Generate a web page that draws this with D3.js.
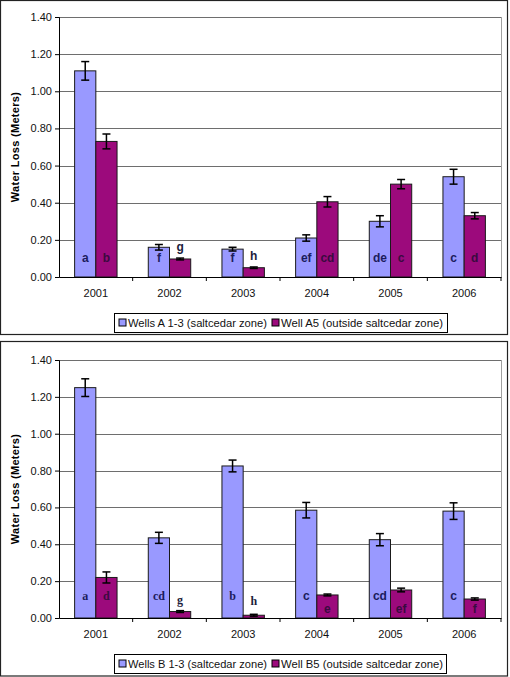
<!DOCTYPE html>
<html><head><meta charset="utf-8">
<script src="https://cdn.jsdelivr.net/npm/d3@7/dist/d3.min.js"></script>
<style>body{margin:0;background:#fff}svg{display:block}</style>
</head><body>
<svg id="c" width="510" height="677"></svg>
<script>
const years = ["2001","2002","2003","2004","2005","2006"];
const yTicks = [0,0.2,0.4,0.6,0.8,1.0,1.2,1.4];

// Chart A
const aInside = [1.11,0.16,0.15,0.21,0.30,0.54];
const aInsideErr = [0.05,0.015,0.01,0.017,0.03,0.04];
const aOutside = [0.73,0.097,0.05,0.405,0.50,0.33];
const aOutsideErr = [0.04,0.005,0.004,0.028,0.025,0.017];
const aInsideLetters = ["a","f","f","ef","de","c"];
const aOutsideLetters = ["b","g","h","cd","c","d"];
const aLegend = ["Wells A 1-3 (saltcedar zone)","Well A5 (outside saltcedar zone)"];

// Chart B
const bInside = [1.25,0.435,0.825,0.585,0.425,0.58];
const bInsideErr = [0.048,0.03,0.032,0.042,0.033,0.045];
const bOutside = [0.22,0.035,0.015,0.125,0.152,0.103];
const bOutsideErr = [0.03,0.005,0.005,0.005,0.01,0.006];
const bInsideLetters = ["a","cd","b","c","cd","c"];
const bOutsideLetters = ["d","g","h","e","ef","f"];
const bLegend = ["Wells B 1-3 (saltcedar zone)","Well B5 (outside saltcedar zone)"];

const colors = ["#9999ff","#9c0a7c"];
const svg = d3.select("#c");
const SANS = "'Liberation Sans', Arial, sans-serif";
const SERIF = "'Liberation Serif', 'Times New Roman', serif";

function panel(cfg){
  const g = svg.append("g");
  g.append("rect").attr("x",cfg.frame[0]).attr("y",cfg.frame[1]).attr("width",cfg.frame[2]).attr("height",cfg.frame[3])
    .attr("fill","#fff").attr("stroke","#222").attr("stroke-width",1.2);
  const x = d3.scaleBand().domain(years).range([cfg.left,cfg.right]).padding(0);
  const y = d3.scaleLinear().domain([0,1.4]).range([cfg.bottom,cfg.top]);
  const gw = x.bandwidth()*0.576;
  const sub = d3.scaleBand().domain([0,1]).range([0,gw]);
  // gridlines
  g.selectAll(".grid").data(yTicks.filter(d=>d>0)).join("line")
    .attr("x1",cfg.left).attr("x2",cfg.right).attr("y1",d=>Math.round(y(d))+0.5).attr("y2",d=>Math.round(y(d))+0.5)
    .attr("stroke","#6e6e6e").attr("stroke-width",1);
  g.append("line").attr("x1",cfg.right+0.5).attr("x2",cfg.right+0.5).attr("y1",cfg.top).attr("y2",cfg.bottom)
    .attr("stroke","#a0a0a0");
  const series = [
    {vals:cfg.inside, err:cfg.insideErr, letters:cfg.insideLetters, i:0},
    {vals:cfg.outside, err:cfg.outsideErr, letters:cfg.outsideLetters, i:1}
  ];
  series.forEach(s=>{
    const bx = (j)=> x(years[j]) + (x.bandwidth()-gw)/2 + sub(s.i);
    g.selectAll(null).data(s.vals).join("rect")
      .attr("x",(d,j)=>bx(j)).attr("width",sub.bandwidth())
      .attr("y",d=>y(d)).attr("height",d=>cfg.bottom-y(d))
      .attr("fill",colors[s.i]).attr("stroke","#1a1a1a").attr("stroke-width",1);
    s.vals.forEach((v,j)=>{
      const cx = bx(j)+sub.bandwidth()/2;
      const e = s.err[j];
      const y1=y(v+e), y2=y(v-e);
      g.append("line").attr("x1",cx).attr("x2",cx).attr("y1",y1).attr("y2",y2).attr("stroke","#000").attr("stroke-width",1.5);
      [y1,y2].forEach(yy=>g.append("line").attr("x1",cx-4).attr("x2",cx+4).attr("y1",yy).attr("y2",yy).attr("stroke","#000").attr("stroke-width",1.5));
      const ly = cfg.letterY(s.i, v, e, y, j);
      g.append("text").attr("x",cx).attr("y",ly).attr("dy","0.35em").attr("text-anchor","middle")
        .attr("font-family",cfg.letterFont(j)).attr("font-weight","bold").attr("font-size",12)
        .attr("fill", s.i===0 ? "#1c1c5c" : (ly < y(v) ? "#1c1c3c" : "#3a0a40"))
        .text(s.letters[j]);
    });
  });
  // y axis
  const ya = g.append("g").attr("transform",`translate(${cfg.left},0)`)
    .call(d3.axisLeft(y).tickValues(yTicks).tickFormat(d3.format(".2f")).tickSize(4).tickPadding(3));
  ya.select(".domain").attr("stroke","#000");
  ya.selectAll("text").attr("font-family",SANS).attr("font-size",11).attr("fill","#111");
  // x axis
  const xa = g.append("g").attr("transform",`translate(0,${cfg.bottom})`)
    .call(d3.axisBottom(x).tickSize(0).tickPadding(12));
  xa.select(".domain").attr("stroke","#000");
  xa.selectAll("text").attr("font-family",SANS).attr("font-size",11).attr("fill","#111");
  g.selectAll(".xt").data(years.slice(1).concat(["end"])).join("line")
    .attr("x1",(d,j)=>cfg.left + x.bandwidth()*(j+1)).attr("x2",(d,j)=>cfg.left + x.bandwidth()*(j+1))
    .attr("y1",cfg.bottom).attr("y2",cfg.bottom+4).attr("stroke","#000");
  // y title
  g.append("text").attr("transform",`translate(${cfg.titleX},${(cfg.top+cfg.bottom)/2}) rotate(-90)`)
    .attr("text-anchor","middle").attr("font-family",SANS).attr("font-weight","bold").attr("font-size",11)
    .attr("letter-spacing",0.3).text("Water Loss (Meters)");
  // legend
  const L = cfg.legend;
  g.append("rect").attr("x",L[0]+0.5).attr("y",L[1]+0.5).attr("width",L[2]).attr("height",L[3])
    .attr("fill","#fff").attr("stroke","#000");
  const items = [{t:cfg.legendText[0], sx:L[0]+5, w:139},{t:cfg.legendText[1], sx:L[0]+158, w:162}];
  items.forEach((it,k)=>{
    g.append("rect").attr("x",it.sx).attr("y",L[1]+L[3]/2-3.5).attr("width",7).attr("height",7)
      .attr("fill",colors[k]).attr("stroke","#000");
    g.append("text").attr("x",it.sx+9).attr("y",L[1]+L[3]/2).attr("dy","0.35em")
      .attr("font-family",SANS).attr("font-size",11.5).attr("fill","#111")
      .attr("textLength",it.w).attr("lengthAdjust","spacingAndGlyphs").text(it.t);
  });
}

panel({
  frame:[0.5,0.5,507,334], left:59, right:501, top:17, bottom:277, titleX:19,
  inside:aInside, insideErr:aInsideErr, outside:aOutside, outsideErr:aOutsideErr,
  insideLetters:aInsideLetters, outsideLetters:aOutsideLetters, legendText:aLegend,
  legend:[114,313,333,19],
  letterFont:()=>SANS,
  letterY:(si,v,e,y)=> v>0.13 ? y(0.102) : Math.min(y(0.102), y(v+e)-11)
});
panel({
  frame:[0.5,341.5,507,334.5], left:59, right:501, top:360, bottom:618, titleX:19,
  inside:bInside, insideErr:bInsideErr, outside:bOutside, outsideErr:bOutsideErr,
  insideLetters:bInsideLetters, outsideLetters:bOutsideLetters, legendText:bLegend,
  legend:[114,654,332,19],
  letterFont:(j)=> j<3 ? SERIF : SANS,
  letterY:(si,v,e,y)=> {
    if(si===0 || v>0.2) return y(0.118);
    if(v>0.08) return y(0.052);
    return Math.min(y(0.095), y(v+e)-11);
  }
});
</script>
</body></html>
